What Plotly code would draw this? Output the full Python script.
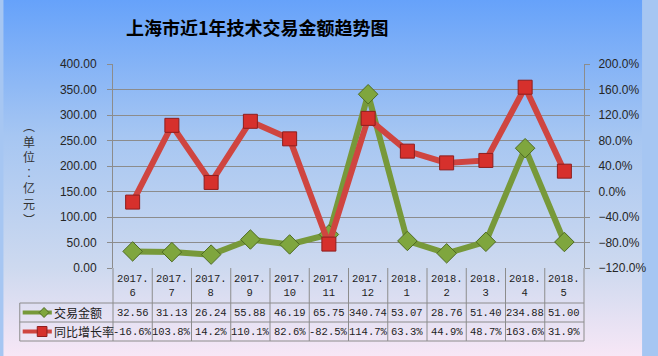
import base64
import plotly.graph_objects as go

# ---------------- data ----------------
months = ["2017.6", "2017.7", "2017.8", "2017.9", "2017.10", "2017.11",
          "2017.12", "2018.1", "2018.2", "2018.3", "2018.4", "2018.5"]
amount = [32.56, 31.13, 26.24, 55.88, 46.19, 65.75, 340.74, 53.07, 28.76, 51.40, 234.88, 51.00]
growth = [-16.6, 103.8, 14.2, 110.1, 82.6, -82.5, 114.7, 63.3, 44.9, 48.7, 163.6, 31.9]
series_names = ["交易金额", "同比增长率"]
title_text = "上海市近1年技术交易金额趋势图"
yaxis_title_chars = ["︵", "单", "位", "︰", "亿", "元", "︶"]

# ---------------- geometry ----------------
W, H = 658, 356
L, R, T, B = 113, 598, 64, 268


def px(x):
    return (x - L) / (R - L)


def py(y):
    return (B - y) / (B - T)


n = len(months)
xr = [-0.5, n - 0.5]


def xcat(v):
    return (v - xr[0]) / (xr[1] - xr[0])


GREEN = "#77993A"
GREEN_D = "#4E6B22"
RED = "#CF4540"
RED_D = "#8E1E1E"
GRID = "#8C8C8C"
TXT = "#222222"

fig = go.Figure()
fig.add_trace(go.Scatter(
    x=list(range(n)), y=amount, name=series_names[0], mode="lines+markers",
    line=dict(color=GREEN, width=6),
    marker=dict(symbol="diamond", size=15, color="#7FA63E", line=dict(color=GREEN_D, width=1)),
    yaxis="y", showlegend=False, cliponaxis=False, hoverinfo="skip"))
fig.add_trace(go.Scatter(
    x=list(range(n)), y=growth, name=series_names[1], mode="lines+markers",
    line=dict(color=RED, width=6),
    marker=dict(symbol="square", size=14, color="#D6302C", line=dict(color=RED_D, width=1)),
    yaxis="y2", showlegend=False, cliponaxis=False, hoverinfo="skip"))

# background gradient
svg = (f"<svg xmlns='http://www.w3.org/2000/svg' width='{W}' height='{H}' preserveAspectRatio='none'>"
       "<defs><linearGradient id='g' x1='0' y1='0' x2='0' y2='1'>"
       "<stop offset='0' stop-color='#66A2FA'/>"
       "<stop offset='0.38' stop-color='#A6C6F2'/>"
       "<stop offset='0.75' stop-color='#CDD9EF'/>"
       "<stop offset='1' stop-color='#F7E7F6'/>"
       "</linearGradient></defs>"
       f"<rect width='{W}' height='{H}' fill='url(#g)'/></svg>")
src = "data:image/svg+xml;base64," + base64.b64encode(svg.encode()).decode()

shapes = []
line_style = dict(color=GRID, width=1)
# table grid
tbl_left = px(17)
y_h1, y_h2, y_bot = py(303), py(322), py(341)
for i in range(n + 1):
    xx = xcat(i - 0.5)
    shapes.append(dict(type="line", xref="paper", yref="paper", x0=xx, x1=xx, y0=0, y1=y_bot, line=line_style))
for yy in (y_h1, y_h2, y_bot):
    shapes.append(dict(type="line", xref="paper", yref="paper", x0=tbl_left, x1=1, y0=yy, y1=yy, line=line_style))
shapes.append(dict(type="line", xref="paper", yref="paper", x0=tbl_left, x1=tbl_left, y0=y_h1, y1=y_bot, line=line_style))

# legend keys inside table
r1, r2 = 312.5, 331.5
shapes.append(dict(type="line", xref="paper", yref="paper", x0=px(20), x1=px(50), y0=py(r1), y1=py(r1),
                   line=dict(color=GREEN, width=4)))
cx, d = 42, 5
shapes.append(dict(type="path", xref="paper", yref="paper",
                   path=f"M {px(cx-d)} {py(r1)} L {px(cx)} {py(r1-d)} L {px(cx+d)} {py(r1)} L {px(cx)} {py(r1+d)} Z",
                   fillcolor="#7FA63E", line=dict(color=GREEN_D, width=1)))
shapes.append(dict(type="line", xref="paper", yref="paper", x0=px(20), x1=px(50), y0=py(r2), y1=py(r2),
                   line=dict(color=RED, width=4)))
cx, d = 40, 5
shapes.append(dict(type="rect", xref="paper", yref="paper", x0=px(cx-d), x1=px(cx+d), y0=py(r2+d), y1=py(r2-d),
                   fillcolor="#D6302C", line=dict(color=RED_D, width=1)))

annotations = []
annotations.append(dict(text=f"<b>{title_text}</b>", xref="paper", yref="paper", x=px(262), y=py(27),
                        showarrow=False, xanchor="center", yanchor="middle",
                        font=dict(family="Noto Sans CJK SC", size=18, color="#000000")))
annotations.append(dict(text="<br>".join(yaxis_title_chars), xref="paper", yref="paper", x=px(26), y=py(172),
                        showarrow=False, xanchor="center", yanchor="middle",
                        font=dict(family="Noto Sans CJK SC", size=12, color="#333333")))
annotations.append(dict(text=series_names[0], xref="paper", yref="paper", x=px(50), y=py(r1),
                        showarrow=False, xanchor="left", yanchor="middle",
                        font=dict(family="Noto Sans CJK SC", size=12, color=TXT)))
annotations.append(dict(text=series_names[1], xref="paper", yref="paper", x=px(50), y=py(r2),
                        showarrow=False, xanchor="left", yanchor="middle",
                        font=dict(family="Noto Sans CJK SC", size=12, color=TXT)))
mono = dict(family="Liberation Mono", size=10.5, color=TXT)
for i, m in enumerate(months):
    yr, mo = m.split(".")
    annotations.append(dict(text=f"{yr}.<br>{mo}", xref="paper", yref="paper", x=xcat(i), y=py(286),
                            showarrow=False, xanchor="center", yanchor="middle", font=mono))
    annotations.append(dict(text=f"{amount[i]:.2f}", xref="paper", yref="paper", x=xcat(i), y=py(r1),
                            showarrow=False, xanchor="center", yanchor="middle", font=mono))
    annotations.append(dict(text=f"{growth[i]:.1f}%", xref="paper", yref="paper", x=xcat(i), y=py(r2),
                            showarrow=False, xanchor="center", yanchor="middle", font=mono))

tickfont = dict(family="Liberation Sans", size=12, color="#262626")
fig.update_layout(
    width=W, height=H, autosize=False,
    margin=dict(l=L, r=W - R, t=T, b=H - B, pad=0),
    paper_bgcolor="#A6C6F2", plot_bgcolor="rgba(0,0,0,0)",
    images=[dict(source=src, xref="paper", yref="paper", x=px(0), y=py(0),
                 sizex=W / (R - L), sizey=H / (B - T), sizing="stretch", layer="below",
                 xanchor="left", yanchor="top")],
    xaxis=dict(range=xr, showticklabels=False, showgrid=False, zeroline=False, showline=False, ticks=""),
    yaxis=dict(range=[0, 400], dtick=50, tickformat=".2f", showgrid=True, gridcolor=GRID, gridwidth=1,
               zeroline=False, showline=True, linecolor=GRID, ticks="outside", ticklen=5, tickcolor=GRID,
               tickfont=tickfont, ticklabelstandoff=8),
    yaxis2=dict(range=[-120, 200], dtick=40, tickformat=".1f", ticksuffix="%", overlaying="y", side="right",
                showgrid=False, zeroline=False, showline=True, linecolor=GRID, ticks="outside", ticklen=5,
                tickcolor=GRID, tickfont=tickfont, ticklabelstandoff=6),
    shapes=shapes, annotations=annotations,
)

fig.write_html("out.html", config={"displayModeBar": False},
               post_script="document.body.style.margin='0';document.body.style.overflow='hidden';")
